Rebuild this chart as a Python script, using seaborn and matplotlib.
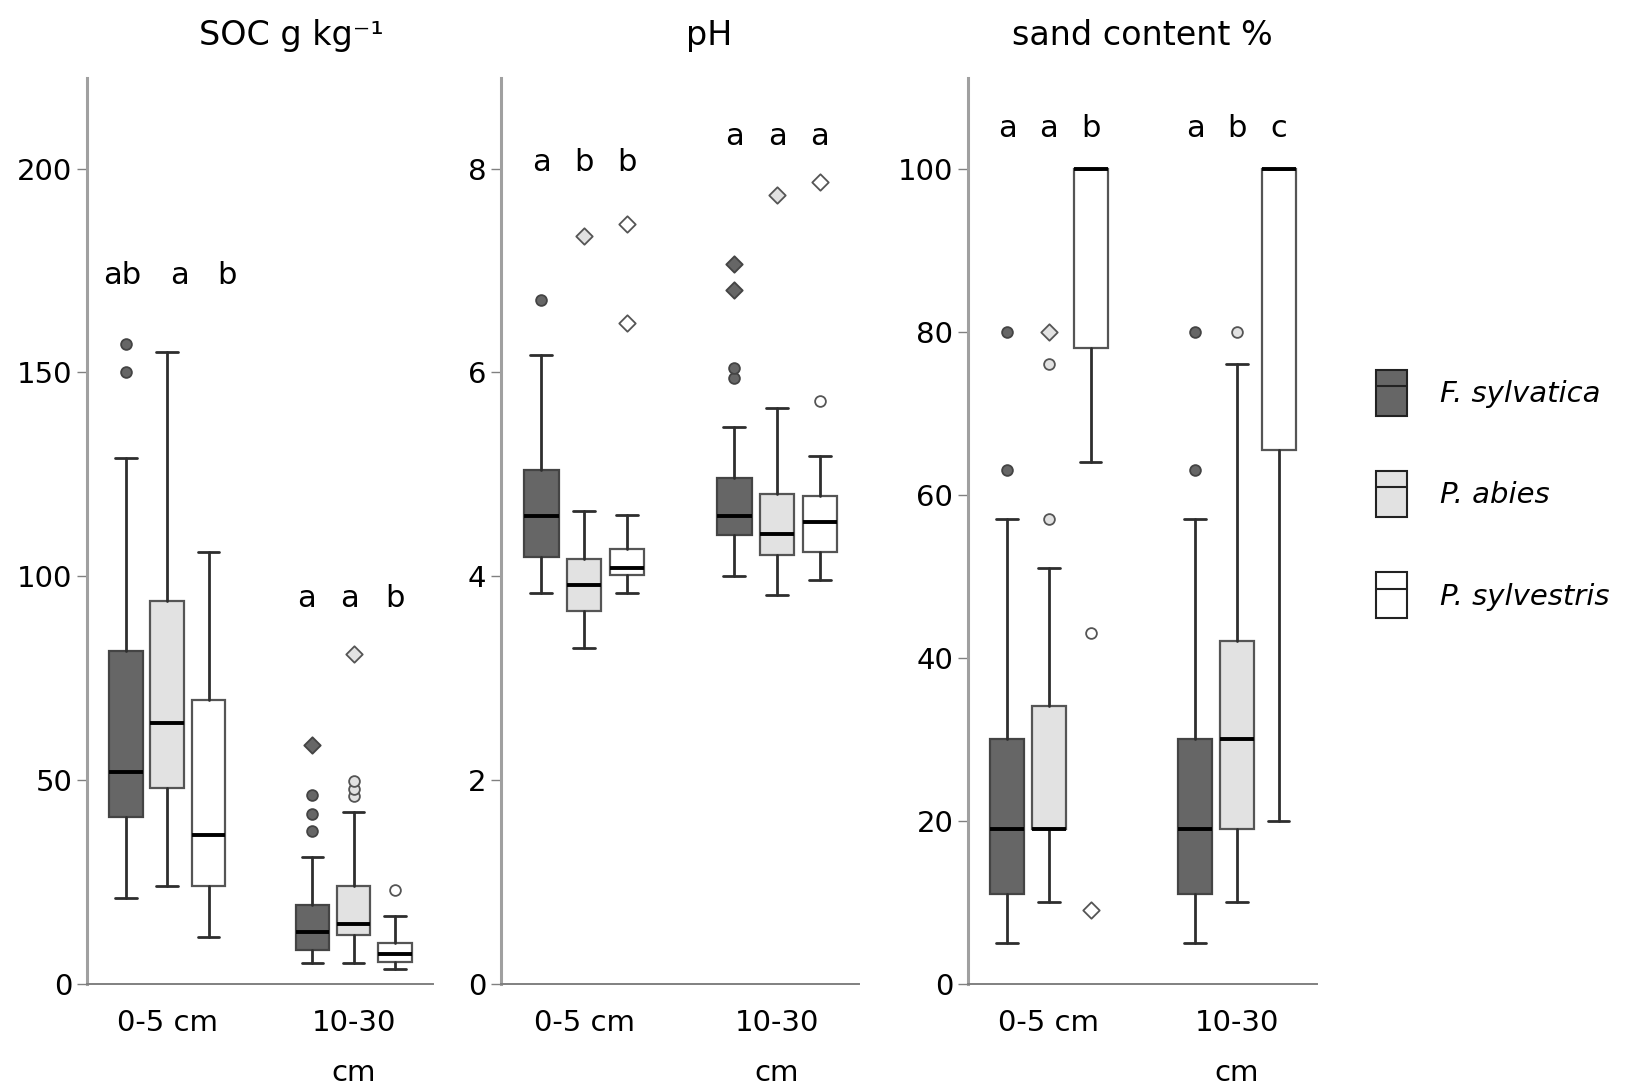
import numpy as np
import pandas as pd
import seaborn as sns
import matplotlib
matplotlib.use("Agg")
import matplotlib.pyplot as plt
from matplotlib.patches import Patch
from matplotlib.lines import Line2D
from matplotlib.legend_handler import HandlerTuple

# categories
depths = ["0-5 cm", "10-30\ncm"]
species = ["F. sylvatica", "P. abies", "P. sylvestris"]

# SOC g/kg  -> [depth][species]
soc_lo = [[21, 24, 11.5], [5, 5, 3.5]]
soc_q1 = [[41, 48, 24], [8.3, 12, 5.4]]
soc_med = [[52, 64, 36.5], [12.7, 14.6, 7.2]]
soc_q3 = [[81.5, 94, 69.5], [19.2, 24, 10]]
soc_hi = [[129, 155, 106], [31, 42, 16.5]]
soc_out = [[[150, 157], [], []], [[37.5, 41.5, 46.2], [46, 47.8, 49.8], [23]]]
soc_ext = [[[], [], []], [[58.5], [81], []]]
soc_letters = [["ab", "a", "b"], ["a", "a", "b"]]

# pH
ph_lo = [[3.83, 3.29, 3.83], [4.0, 3.82, 3.96]]
ph_q1 = [[4.19, 3.66, 4.01], [4.40, 4.21, 4.24]]
ph_med = [[4.59, 3.91, 4.08], [4.59, 4.41, 4.53]]
ph_q3 = [[5.04, 4.17, 4.27], [4.96, 4.81, 4.79]]
ph_hi = [[6.17, 4.64, 4.60], [5.46, 5.65, 5.18]]
ph_out = [[[6.71], [], []], [[5.95, 6.04], [], [5.72]]]
ph_ext = [[[], [7.34], [6.49, 7.46]], [[6.81, 7.06], [7.74], [7.87]]]
ph_letters = [["a", "b", "b"], ["a", "a", "a"]]

# sand content %
sand_lo = [[5, 10, 64], [5, 10, 20]]
sand_q1 = [[11, 19, 78], [11, 19, 65.5]]
sand_med = [[19, 19, 100], [19, 30, 100]]
sand_q3 = [[30, 34, 100], [30, 42, 100]]
sand_hi = [[57, 51, 100], [57, 76, 100]]
sand_out = [[[63, 80], [57, 76], [43]], [[63, 80], [80], []]]
sand_ext = [[[], [80], [9]], [[], [], []]]
sand_letters = [["a", "a", "b"], ["a", "b", "c"]]

fills = ["#666666", "#e2e2e2", "#ffffff"]
edges = ["#444444", "#555555", "#555555"]
offsets = [-0.222, 0.0, 0.222]

sns.set_theme(style="ticks")
plt.rcParams["font.family"] = ["DejaVu Sans"]
plt.rcParams["text.color"] = "black"


def draw_panel(ax, title, title_x, lo, q1, med, q3, hi, outl, extr,
               letters, letter_y, ymax, yticks, letter_dx=None):
    for s in range(3):
        stats = []
        for g in range(2):
            stats.append(dict(whislo=lo[g][s], q1=q1[g][s], med=med[g][s],
                              q3=q3[g][s], whishi=hi[g][s]))
        pos = [g + offsets[s] for g in range(2)]
        ax.bxp(stats, positions=pos, widths=0.18, capwidths=0.115,
               patch_artist=True, showfliers=False, manage_ticks=False,
               boxprops=dict(facecolor=fills[s], edgecolor=edges[s], linewidth=1.6),
               medianprops=dict(color="black", linewidth=2.8),
               whiskerprops=dict(color="#2e2e2e", linewidth=2.0),
               capprops=dict(color="#2e2e2e", linewidth=2.0))
        for g in range(2):
            if outl[g][s]:
                sns.scatterplot(x=[pos[g]] * len(outl[g][s]), y=outl[g][s],
                                marker="o", s=60, color=fills[s],
                                edgecolor=edges[s], linewidth=1.3,
                                ax=ax, legend=False, zorder=3)
            if extr[g][s]:
                sns.scatterplot(x=[pos[g]] * len(extr[g][s]), y=extr[g][s],
                                marker="D", s=70, color=fills[s],
                                edgecolor=edges[s], linewidth=1.3,
                                ax=ax, legend=False, zorder=3)
            dx = letter_dx[g][s] if letter_dx else 0
            ax.text(pos[g] + dx, letter_y[g], letters[g][s], ha="center",
                    va="baseline", fontsize=22, color="black")

    ax.set_xlim(-0.43, 1.425)
    ax.set_ylim(0, ymax)
    ax.set_xticks([0, 1], depths)
    ax.set_yticks(yticks)
    ax.set_xlabel("")
    ax.set_ylabel("")
    sns.despine(ax=ax)
    ax.spines["left"].set_color("#a0a0a0")
    ax.spines["left"].set_linewidth(2.2)
    ax.spines["bottom"].set_color("#808080")
    ax.spines["bottom"].set_linewidth(1.4)
    ax.tick_params(axis="y", length=7, width=1, color="#808080", pad=3.5,
                   labelsize=21, labelcolor="black")
    ax.tick_params(axis="x", length=0, pad=18, labelsize=21, labelcolor="black")
    for lbl in ax.get_xticklabels():
        lbl.set_linespacing(2.0)
    ax.set_title(title, x=title_x, pad=24, fontsize=24, color="black")


fig = plt.figure(figsize=(16.32, 10.87), dpi=100)
ax1 = fig.add_axes([0.0533, 0.0951, 0.2120, 0.8331])
ax2 = fig.add_axes([0.3070, 0.0951, 0.2194, 0.8331])
ax3 = fig.add_axes([0.5931, 0.0951, 0.2138, 0.8331])

soc_letter_dx = [[-0.02, 0.064, 0.096], [-0.03, -0.02, 0.0]]

draw_panel(ax1, "SOC g kg⁻¹", 0.59, soc_lo, soc_q1, soc_med, soc_q3, soc_hi,
           soc_out, soc_ext, soc_letters, [171.7, 92.4], 222.2, [0, 50, 100, 150, 200],
           letter_dx=soc_letter_dx)
draw_panel(ax2, "pH", 0.58, ph_lo, ph_q1, ph_med, ph_q3, ph_hi,
           ph_out, ph_ext, ph_letters, [7.98, 8.23], 8.89, [0, 2, 4, 6, 8])
draw_panel(ax3, "sand content %", 0.5, sand_lo, sand_q1, sand_med, sand_q3, sand_hi,
           sand_out, sand_ext, sand_letters, [103.9, 103.9], 111.1, [0, 20, 40, 60, 80, 100])

handles = [(Patch(facecolor=fills[s], edgecolor="#222222", linewidth=1.5),
            Line2D([], [], color="#222222", linewidth=1.5)) for s in range(3)]
fig.legend(handles, species, handler_map={tuple: HandlerTuple(ndivide=1, pad=0)},
           loc="center left", bbox_to_anchor=(0.843, 0.5455), frameon=False,
           prop={"style": "italic", "size": 21}, handlelength=1.07, handleheight=2.05,
           handletextpad=1.14, labelspacing=1.9, borderpad=0, borderaxespad=0)

fig.savefig("out.png", dpi=100)
plt.close()
